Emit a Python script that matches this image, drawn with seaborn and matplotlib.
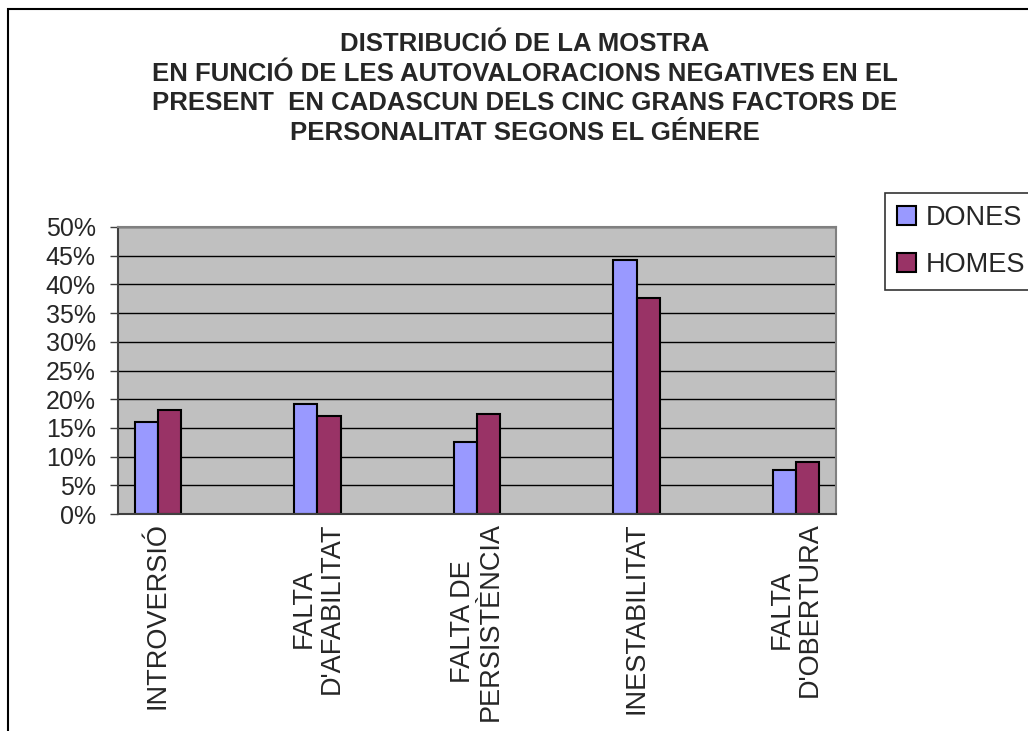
import numpy as np
import pandas as pd
import matplotlib.pyplot as plt
import seaborn as sns
from matplotlib.patches import Rectangle
from matplotlib.ticker import FuncFormatter, MultipleLocator

# dades (percentatges llegits del gràfic)
categories = ["INTROVERSIÓ", "FALTA\nD'AFABILITAT", "FALTA DE\nPERSISTÈNCIA",
              "INESTABILITAT", "FALTA\nD'OBERTURA"]
dones = [16.0, 19.2, 12.6, 44.3, 7.7]
homes = [18.1, 17.1, 17.4, 37.6, 9.1]
series = ["DONES", "HOMES"]
colors = ["#9999FF", "#993366"]

title = ("DISTRIBUCIÓ DE LA MOSTRA\n"
         "EN FUNCIÓ DE LES AUTOVALORACIONS NEGATIVES EN EL\n"
         "PRESENT  EN CADASCUN DELS CINC GRANS FACTORS DE\n"
         "PERSONALITAT SEGONS EL GÉNERE")


def main():
    sns.set_style("white")
    plt.rcParams['font.family'] = ['Liberation Sans', 'DejaVu Sans']

    rows = []
    for cat, d, h in zip(categories, dones, homes):
        rows.append({'cat': cat, 'serie': series[0], 'val': d})
        rows.append({'cat': cat, 'serie': series[1], 'val': h})
    df = pd.DataFrame(rows)

    # Excel deixa una columna buida entre cada categoria
    order = []
    for i, c in enumerate(categories):
        order.append(c)
        if i < len(categories) - 1:
            order.append(f"_buit{i}")

    fig = plt.figure(figsize=(10.28, 7.31), dpi=100)
    ax = fig.add_axes([118 / 1028, 1 - 514 / 731, 718 / 1028, 287 / 731])
    ax.set_facecolor("#C0C0C0")

    sns.barplot(data=df, x='cat', y='val', hue='serie', order=order,
                hue_order=series, palette=colors, saturation=1, width=0.58,
                edgecolor='black', linewidth=1.5, ax=ax, legend=False)

    ax.set_ylim(0, 50)
    ax.set_xlim(-0.5, len(order) - 0.5)
    ax.yaxis.set_major_locator(MultipleLocator(5))
    ax.yaxis.set_major_formatter(FuncFormatter(lambda v, p: f"{v:.0f}%"))
    ax.grid(axis='y', color='black', linewidth=1)
    ax.set_axisbelow(True)

    labels = [c if not c.startswith("_buit") else "" for c in order]
    ax.set_xticks(range(len(order)), labels=labels, rotation=90,
                  ha='center', va='top', fontsize=19.5)
    for t in ax.get_xticklabels():
        t.set_multialignment('center')
        t.set_linespacing(1.1)
    ax.set_xticks(np.arange(-0.5, len(order), 1), minor=True)
    ax.tick_params(axis='x', which='major', length=0, pad=6)
    ax.tick_params(axis='x', which='minor', length=7, width=1, color='#404040')
    ax.tick_params(axis='y', length=6, width=1, color='#404040', pad=10,
                   labelsize=18, left=True)
    ax.set_xlabel("")
    ax.set_ylabel("")

    for s in ['top', 'right']:
        ax.spines[s].set_color('#808080')
        ax.spines[s].set_linewidth(1.5)
    for s in ['left', 'bottom']:
        ax.spines[s].set_color('#404040')
        ax.spines[s].set_linewidth(1.5)

    fig.text(525 / 1028, 1 - 32 / 731, title, ha='center', va='top',
             fontsize=18.5, fontweight='bold', linespacing=1.3)

    handles = [Rectangle((0, 0), 1, 1, facecolor=c, edgecolor='black',
                         linewidth=1.5) for c in colors]
    leg = fig.legend(handles, series, loc='upper left',
                     bbox_to_anchor=(885 / 1028, 1 - 193 / 731),
                     fontsize=19.5, frameon=True, fancybox=False,
                     handlelength=0.7, handleheight=0.7, handletextpad=0.35,
                     borderaxespad=0, borderpad=0.45, labelspacing=0.75)
    leg.get_frame().set_edgecolor('black')
    leg.get_frame().set_linewidth(1.2)

    border = Rectangle((8 / 1028, -0.1), 1.2, 1.1 - 9 / 731, fill=False,
                       edgecolor='black', linewidth=1.5,
                       transform=fig.transFigure, clip_on=False)
    fig.add_artist(border)

    fig.savefig("out.png", dpi=100)


if __name__ == "__main__":
    main()
